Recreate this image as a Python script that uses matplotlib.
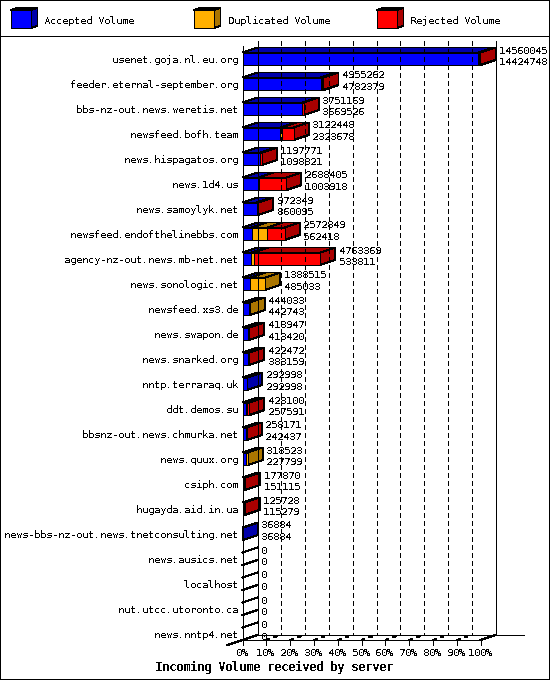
import matplotlib
matplotlib.use("Agg")
import matplotlib.pyplot as plt
from matplotlib.lines import Line2D
from matplotlib.patches import Polygon, Rectangle

plt.rcParams["font.family"] = ["DejaVu Sans Mono"]
plt.rcParams["text.antialiased"] = False
plt.rcParams["text.hinting"] = "native"
plt.rcParams["text.hinting_factor"] = 1
plt.rcParams["lines.antialiased"] = False
plt.rcParams["patch.antialiased"] = False

servers = [
    "usenet.goja.nl.eu.org", "feeder.eternal-september.org",
    "bbs-nz-out.news.weretis.net", "newsfeed.bofh.team",
    "news.hispagatos.org", "news.1d4.us", "news.samoylyk.net",
    "newsfeed.endofthelinebbs.com", "agency-nz-out.news.mb-net.net",
    "news.sonologic.net", "newsfeed.xs3.de", "news.swapon.de",
    "news.snarked.org", "nntp.terraraq.uk", "ddt.demos.su",
    "bbsnz-out.news.chmurka.net", "news.quux.org", "csiph.com",
    "hugayda.aid.in.ua", "news-bbs-nz-out.news.tnetconsulting.net",
    "news.ausics.net", "localhost", "nut.utcc.utoronto.ca", "news.nntp4.net",
]
total = [14560045, 4955262, 3751169, 3122448, 1197771, 2688405, 972349, 2572849,
         4763369, 1388515, 444033, 418947, 422472, 292998, 428100, 258171,
         318523, 177870, 125728, 36884, 0, 0, 0, 0]
accepted = [14424748, 4782379, 3669526, 2323678, 1098821, 1003918, 860095, 562418,
            533811, 485033, 442743, 413420, 383159, 292998, 257591, 242437,
            227799, 151115, 115279, 36884, 0, 0, 0, 0]
# duplicated volume is estimated from the bar widths, it has no printed number
duplicated = [60000, 60000, 0, 70000, 0, 0, 0, 950000,
              140000, 903482, 1290, 0, 0, 0, 40000, 0,
              90724, 0, 0, 0, 0, 0, 0, 0]
percent_ticks = [0, 10, 20, 30, 40, 50, 60, 70, 80, 90, 100]
legend_names = ["Accepted Volume", "Duplicated Volume", "Rejected Volume"]

front_colors = ["#0000ff", "#ffb000", "#ff0000"]
shade_colors = ["#0000aa", "#aa7500", "#aa0000"]

W, H = 550, 680
LW = 0.72  # one pixel at 100 dpi
DX = 15 / 2.38  # depth of the 3d effect, in percent
DY = 0.2  # same, in rows
HALF = 0.25

fig = plt.figure(figsize=(W / 100, H / 100), dpi=100, facecolor="white")
ax = fig.add_axes([242.5 / W, 1 - 646.25 / H, 238 / W, 600 / H])
ax.set_xlim(0, 100)
ax.set_ylim(len(servers) - 0.5, -0.5)
ax.axis("off")


def px(x, y):
    return x / W, 1 - y / H


def fig_line(xs, ys):
    pts = [px(x, y) for x, y in zip(xs, ys)]
    fig.add_artist(Line2D([p[0] for p in pts], [p[1] for p in pts], color="black", lw=LW))


# frame of the picture and the legend strip
fig.add_artist(Rectangle((0, 0), 1, 1, fill=False, edgecolor="black", lw=LW * 2))
fig_line([0, W], [35.5, 35.5])

legend_left = [10.5, 193.5, 376.5]
legend_text = [44, 228, 410]
for left, tx, name, c, s in zip(legend_left, legend_text, legend_names, front_colors, shade_colors):
    side = [px(left + 20, 10), px(left + 27, 8), px(left + 27, 26), px(left + 20, 28)]
    top = [px(left, 10), px(left + 7, 8), px(left + 27, 8), px(left + 20, 10)]
    fig.add_artist(Polygon(side, closed=True, facecolor=s, edgecolor="black", lw=LW))
    fig.add_artist(Polygon(top, closed=True, facecolor=s, edgecolor="black", lw=LW))
    fig.add_artist(Rectangle(px(left, 28), 20 / W, 18 / H, facecolor=c, edgecolor="black", lw=LW))
    fig.text(tx / W, 1 - 21 / H, name, fontsize=7.2, va="center", ha="left")

n = len(servers)
wall_top = -0.5 - DY
floor_back = n - 1 + 0.05  # back floor line
floor_front = floor_back + DY

# walls and floor
ax.plot([0, 0], [-0.5, floor_front + 0.2], color="black", lw=LW, clip_on=False)
ax.plot([DX, DX], [wall_top, floor_back], color="black", lw=LW, clip_on=False)
ax.plot([100 + DX, 100 + DX], [wall_top, floor_back], color="black", lw=LW, clip_on=False)
ax.plot([DX, 100 + DX + 11.8], [floor_back, floor_back], color="black", lw=LW, clip_on=False)
ax.plot([0, 100], [floor_front, floor_front], color="black", lw=LW, clip_on=False)
ax.plot([-DX, DX], [floor_back + 2 * DY, floor_back], color="black", lw=LW, clip_on=False)
ax.plot([100, 100 + DX], [floor_front, floor_back], color="black", lw=LW, clip_on=False)

for p in percent_ticks:
    ax.plot([p, p], [floor_front, floor_front + 0.2], color="black", lw=LW, clip_on=False)
    ax.text(p - 0.4, floor_front + 0.53, f"{p}%", fontsize=7.2, ha="center", va="center",
            clip_on=False)
    if 0 < p:
        ax.plot([p + DX, p + DX], [wall_top, floor_back], color="black", lw=LW,
                dashes=(5, 4), clip_on=False)
    if 0 < p < 100:
        ax.plot([p, p + DX], [floor_front, floor_back], color="black", lw=LW,
                dashes=(3, 5), clip_on=False)

ax.text(13.2, floor_front + 1.08, "Incoming Volume received by server", fontsize=8.3,
        fontweight="bold", ha="center", va="center", clip_on=False)

biggest = max(total)
for i, name in enumerate(servers):
    ax.text(-1.7, i + 0.04, name, fontsize=7.2, ha="right", va="center", clip_on=False)
    rejected = total[i] - accepted[i] - duplicated[i]
    end = total[i] / biggest * 100
    t, b = i - HALF, i + HALF
    if total[i] == 0:
        ax.plot([0, DX], [t, t - DY], color="black", lw=LW, clip_on=False)
        ax.plot([0, DX], [b, b - DY], color="black", lw=LW, clip_on=False)
    start = 0
    for value, c, s in zip([accepted[i], duplicated[i], rejected], front_colors, shade_colors):
        if value <= 0:
            continue
        stop = start + value / biggest * 100
        ax.add_patch(Polygon([(stop, t), (stop + DX, t - DY), (stop + DX, b - DY), (stop, b)],
                             closed=True, facecolor=s, edgecolor="black", lw=LW, clip_on=False))
        ax.add_patch(Polygon([(start, t), (start + DX, t - DY), (stop + DX, t - DY), (stop, t)],
                             closed=True, facecolor=s, edgecolor="black", lw=LW, clip_on=False))
        ax.add_patch(Rectangle((start, t), stop - start, b - t, facecolor=c,
                               edgecolor="black", lw=LW, clip_on=False))
        start = stop
    ax.text(end + DX + 1.4, i - 0.33, str(total[i]), fontsize=7.2, ha="left", va="center",
            clip_on=False, zorder=5)
    ax.text(end + DX + 1.4, i + 0.12, str(accepted[i]), fontsize=7.2, ha="left", va="center",
            clip_on=False, zorder=5)

fig.savefig("out.png", dpi=100)
